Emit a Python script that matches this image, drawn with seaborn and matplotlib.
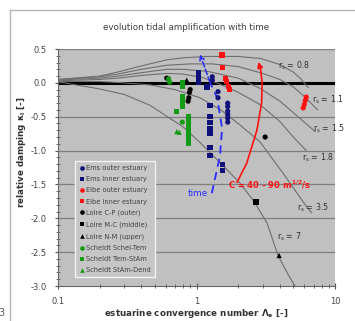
import numpy as np
import pandas as pd
import matplotlib
matplotlib.use("Agg")
import matplotlib.pyplot as plt
from matplotlib.lines import Line2D
import seaborn as sns

# ---------------- data ----------------
# theoretical curves, labelled r_s
r08_x = [0.1, 0.2, 0.27, 0.4, 0.61, 0.8, 1.2, 2.0, 2.9, 4.0, 5.0, 5.6, 6.4]
r08_y = [0.05, 0.10, 0.16, 0.25, 0.34, 0.37, 0.39, 0.39, 0.36, 0.27, 0.16, 0.07, -0.07]
r11_x = [0.1, 0.2, 0.27, 0.4, 0.61, 0.9, 1.3, 2.0, 3.0, 4.0, 5.0, 6.0, 7.5]
r11_y = [0.05, 0.09, 0.13, 0.20, 0.26, 0.28, 0.28, 0.24, 0.14, 0.05, -0.06, -0.20, -0.40]
r15_x = [0.1, 0.2, 0.27, 0.4, 0.61, 0.8, 1.2, 2.0, 2.87, 4.0, 5.0, 6.0, 7.2]
r15_y = [0.04, 0.07, 0.10, 0.15, 0.20, 0.20, 0.17, 0.07, -0.08, -0.27, -0.44, -0.58, -0.72]
r18_x = [0.1, 0.2, 0.27, 0.4, 0.61, 0.8, 1.1, 1.4, 2.0, 2.87, 4.0, 5.0, 6.2]
r18_y = [0.03, 0.05, 0.07, 0.11, 0.14, 0.13, 0.08, 0.0, -0.14, -0.32, -0.57, -0.80, -1.0]
r35_x = [0.1, 0.2, 0.3, 0.46, 0.7, 1.06, 1.5, 2.0, 2.87, 4.2, 5.2, 6.3, 6.8]
r35_y = [0.02, 0.02, 0.0, -0.03, -0.10, -0.22, -0.40, -0.60, -0.87, -1.33, -1.60, -1.84, -1.92]
r7_x = [0.1, 0.2, 0.3, 0.46, 0.8, 1.06, 1.55, 2.06, 2.6, 3.23, 3.88, 4.5, 5.14]
r7_y = [0.015, -0.09, -0.17, -0.33, -0.65, -0.88, -1.22, -1.48, -1.75, -2.07, -2.55, -2.80, -3.0]
curve_labels = ["r$_s$ = 0.8", "r$_s$ = 1.1", "r$_s$ = 1.5", "r$_s$ = 1.8", "r$_s$ = 3.5", "r$_s$ = 7"]
curve_label_x = [3.87, 6.8, 6.9, 5.8, 5.3, 3.81]
curve_label_y = [0.25, -0.25, -0.68, -1.10, -1.85, -2.28]

# observations
ems_outer_x = [1.3, 1.3, 1.43, 1.43, 1.68, 1.68, 1.68, 1.68, 1.68, 1.68]
ems_outer_y = [0.09, 0.04, -0.13, -0.22, -0.30, -0.35, -0.42, -0.47, -0.52, -0.58]
ems_inner_x = [1.03, 1.03, 1.03, 1.03, 1.19, 1.25, 1.25, 1.25, 1.25, 1.25, 1.25, 1.25, 1.55, 1.55]
ems_inner_y = [0.15, 0.10, 0.05, 0.0, -0.06, -0.33, -0.50, -0.59, -0.67, -0.74, -0.95, -1.07, -1.20, -1.30]
elbe_outer_x = [5.9, 6.0, 6.1, 6.2]
elbe_outer_y = [-0.37, -0.32, -0.26, -0.21]
elbe_inner_x = [1.53, 1.55, 1.62, 1.64, 1.70, 1.72]
elbe_inner_y = [0.41, 0.23, 0.07, 0.02, -0.05, -0.10]
loire_cp_x = [0.61, 0.90, 0.89, 0.88, 0.87, 3.13]
loire_cp_y = [0.07, -0.10, -0.14, -0.22, -0.27, -0.80]
loire_mc_x = [2.69]
loire_mc_y = [-1.76]
loire_nm_x = [0.85, 3.95]
loire_nm_y = [0.04, -2.55]
scheldt_st_x = [0.63, 0.64, 0.79]
scheldt_st_y = [0.06, 0.01, -0.58]
scheldt_ts_x = [0.79, 0.79, 0.79, 0.79, 0.79, 0.79, 0.72, 0.87, 0.87, 0.87, 0.87, 0.87, 0.87, 0.87, 0.88]
scheldt_ts_y = [0.0, -0.05, -0.20, -0.25, -0.30, -0.35, -0.42, -0.50, -0.57, -0.63, -0.69, -0.75, -0.80, -0.85, -0.90]
scheldt_sd_x = [0.72, 0.75]
scheldt_sd_y = [-0.72, -0.73]

series_names = ["Ems outer estuary", "Ems inner estuary", "Elbe outer estuary", "Elbe inner estuary",
                "Loire C-P (outer)", "Loire M-C (middle)", "Loire N-M (upper)",
                "Scheldt Schel-Tem", "Scheldt Tem-StAm", "Scheldt StAm-Dend"]

# annotation paths
time_x = [1.29, 1.48, 1.53, 1.41, 1.25, 1.06]
time_y = [-1.63, -1.07, -0.67, -0.22, 0.01, 0.42]
c_x = [1.96, 2.30, 2.73, 2.95, 2.98, 2.90, 2.80]
c_y = [-1.47, -1.19, -0.70, -0.30, 0.00, 0.20, 0.31]

# ---------------- build tables ----------------
obs_sets = [(ems_outer_x, ems_outer_y), (ems_inner_x, ems_inner_y), (elbe_outer_x, elbe_outer_y),
            (elbe_inner_x, elbe_inner_y), (loire_cp_x, loire_cp_y), (loire_mc_x, loire_mc_y),
            (loire_nm_x, loire_nm_y), (scheldt_st_x, scheldt_st_y), (scheldt_ts_x, scheldt_ts_y),
            (scheldt_sd_x, scheldt_sd_y)]
rows = []
for name, (xs, ys) in zip(series_names, obs_sets):
    for xv, yv in zip(xs, ys):
        rows.append((name, xv, yv))
obs = pd.DataFrame(rows, columns=["series", "x", "y"])

curve_sets = [(r08_x, r08_y), (r11_x, r11_y), (r15_x, r15_y), (r18_x, r18_y), (r35_x, r35_y), (r7_x, r7_y)]
crow = []
for i, (xs, ys) in enumerate(curve_sets):
    for xv, yv in zip(xs, ys):
        crow.append((i, xv, yv))
curves = pd.DataFrame(crow, columns=["curve", "x", "y"])

navy = "#10107a"
red = "#ff1010"
green = "#159a15"
palette = {series_names[0]: navy, series_names[1]: navy, series_names[2]: red, series_names[3]: red,
           series_names[4]: "black", series_names[5]: "black", series_names[6]: "black",
           series_names[7]: green, series_names[8]: green, series_names[9]: green}
markers = {series_names[0]: "o", series_names[1]: "s", series_names[2]: "o", series_names[3]: "s",
           series_names[4]: "o", series_names[5]: "s", series_names[6]: "^",
           series_names[7]: "o", series_names[8]: "s", series_names[9]: "^"}

# ---------------- plot ----------------
sns.set_style("white")
plt.rcParams["font.family"] = ["DejaVu Sans"]
plt.rcParams["mathtext.default"] = "regular"

fig = plt.figure(figsize=(3.55, 3.21), dpi=100)
ax = fig.add_axes([58 / 355, 1 - 286 / 321, (335 - 58) / 355, (286 - 49) / 321])
ax.set_facecolor("#c0c0c0")

ax.set_xscale("log")
ax.set_xlim(0.1, 10)
ax.set_ylim(-3.0, 0.5)

for yv in np.arange(-2.5, 0.51, 0.5):
    if abs(yv) > 1e-9:
        ax.axhline(yv, color="#7f7f7f", lw=0.9, zorder=1)
ax.axhline(0.0, color="black", lw=2.2, zorder=2)

sns.lineplot(data=curves, x="x", y="y", units="curve", estimator=None, sort=False,
             color="#6e6e6e", lw=0.8, legend=False, ax=ax, zorder=3)

sns.scatterplot(data=obs, x="x", y="y", hue="series", style="series", hue_order=series_names,
                style_order=series_names, palette=palette, markers=markers, s=14, linewidth=0,
                ax=ax, zorder=5)

for lab, lx, ly in zip(curve_labels, curve_label_x, curve_label_y):
    ax.text(lx, ly, lab, fontsize=5.7, color="#303030", va="center", ha="left", zorder=6)

# blue dashed "time" arrow
ax.plot(time_x[:-1], time_y[:-1], color="#2a2aff", lw=1.3, ls=(0, (4.5, 3)), zorder=4)
ax.annotate("", xy=(time_x[-1], time_y[-1]), xytext=(time_x[-2], time_y[-2]),
            arrowprops=dict(arrowstyle="->", color="#2a2aff", lw=1.1, ls="--",
                            shrinkA=0, shrinkB=0, mutation_scale=8), zorder=4)
ax.text(1.02, -1.63, "time", color="#2a2aff", fontsize=6.4, ha="center", va="center", zorder=6)

# red arrow
ax.plot(c_x[:-1], c_y[:-1], color=red, lw=1.2, zorder=4)
ax.annotate("", xy=(c_x[-1], c_y[-1]), xytext=(c_x[-2], c_y[-2]),
            arrowprops=dict(arrowstyle="-|>", color=red, lw=1.2, shrinkA=0, shrinkB=0,
                            mutation_scale=8), zorder=4)
ax.text(1.69, -1.5, "C = 40 - 90 m$^{1/2}$/s", color=red, fontsize=6.0, fontweight="bold",
        ha="left", va="center", zorder=6)

# axes styling
ax.set_yticks(np.arange(-3.0, 0.51, 0.5))
ax.set_yticklabels([f"{v:.1f}" for v in np.arange(-3.0, 0.51, 0.5)])
ax.set_yticks(np.arange(-3.0, 0.51, 0.1), minor=True)
ax.set_xticks([0.1, 1, 10])
ax.set_xticklabels(["0.1", "1", "10"])
ax.tick_params(axis="both", which="major", labelsize=6, colors="#555555", labelcolor="#444444",
               direction="inout", length=4, width=0.8, pad=6)
ax.tick_params(axis="both", which="minor", colors="#555555", direction="inout", length=2.5, width=0.6)
ax.tick_params(axis="x", which="minor", labelbottom=False)
ax.tick_params(left=True, bottom=True, which="both")
for side in ["top", "right"]:
    ax.spines[side].set_visible(False)
for side in ["left", "bottom"]:
    ax.spines[side].set_color("#666666")
    ax.spines[side].set_linewidth(0.8)
ax.set_xlabel("")
ax.set_ylabel("")

handles, labels = ax.get_legend_handles_labels()
leg = ax.legend(handles, labels, loc="upper left", bbox_to_anchor=(0.05, 0.54), fontsize=4.8,
                frameon=True, fancybox=False, facecolor="#c6c6c6", edgecolor="#f2f2f2",
                framealpha=1, borderpad=0.55, labelspacing=0.78, handletextpad=0.1,
                handlelength=1.0, markerscale=0.9)
leg.get_frame().set_linewidth(1.0)
for t in leg.get_texts():
    t.set_color("#404040")

# figure texts
fig.text(186 / 355, 1 - 28 / 321, "evolution tidal amplification with time", fontsize=6.3,
         color="#404040", ha="center", va="center")
fig.text(22 / 355, 1 - 152 / 321, "relative damping κ$_I$ [-]", fontsize=6.3, fontweight="bold",
         color="#333333", rotation=90, ha="center", va="center")
fig.text(196 / 355, 1 - 314 / 321, "estuarine convergence number Λ$_e$ [-]", fontsize=6.3,
         fontweight="bold", color="#333333", ha="center", va="center")
fig.text(-0.004, 1 - 313 / 321, "3", fontsize=7, color="#555555", ha="left", va="center")

# outer chart frame
fig.add_artist(Line2D([10 / 355, 10 / 355], [0, 1 - 10 / 321], color="#b5b5b5", lw=1.0))
fig.add_artist(Line2D([10 / 355, 1], [1 - 10 / 321, 1 - 10 / 321], color="#b5b5b5", lw=1.0))

fig.savefig("out.png", dpi=100)
